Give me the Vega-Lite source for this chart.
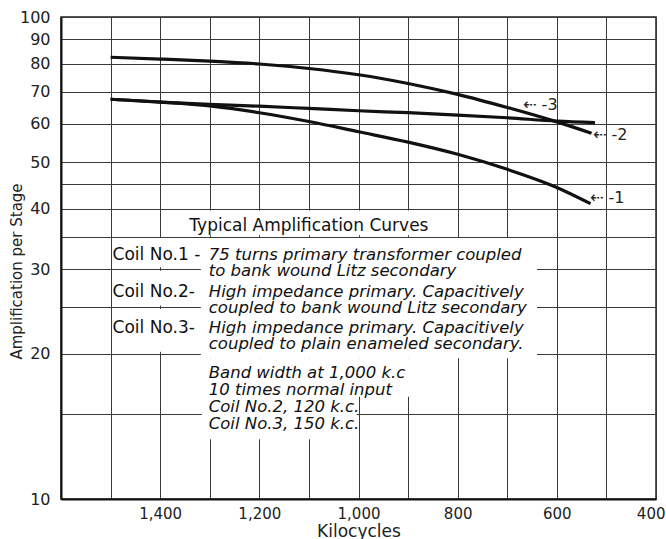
{
  "$schema": "https://vega.github.io/schema/vega-lite/v6.json",
  "width": 595,
  "height": 482,
  "autosize": "none",
  "padding": {"left": 61, "top": 17, "right": 10, "bottom": 40},
  "background": "white",
  "config": {
    "view": {"stroke": "#222", "strokeWidth": 1.5},
    "font": "DejaVu Sans"
  },
  "layer": [
    {
      "data": {"values": [
        {"kc": 1396, "kc2": 804, "amp": 39.7, "amp2": 35.25},
        {"kc": 1318, "kc2": 640, "amp": 34.8, "amp2": 19.6},
        {"kc": 1405, "kc2": 1395, "amp": 34.8, "amp2": 30.25},
        {"kc": 1405, "kc2": 1395, "amp": 29.75, "amp2": 25.2},
        {"kc": 1405, "kc2": 1395, "amp": 24.8, "amp2": 20.2},
        {"kc": 1316, "kc2": 1003.5, "amp": 19.6, "amp2": 13.3},
        {"kc": 1006, "kc2": 804, "amp": 19.6, "amp2": 16.3}
      ]},
      "mark": {"type": "rect", "color": "white", "strokeWidth": 0},
      "encoding": {
        "x": {
          "field": "kc", "type": "quantitative", "title": "Kilocycles",
          "scale": {"domain": [400, 1600], "reverse": true, "nice": false, "zero": false},
          "axis": {
            "values": [1500, 1400, 1300, 1200, 1100, 1000, 900, 800, 700, 600, 500, 400],
            "labelExpr": "datum.value % 200 == 0 ? format(datum.value, ',') : ''",
            "grid": true, "gridColor": "#3a3a3a", "gridWidth": 1, "gridOpacity": 1,
            "ticks": false, "domainColor": "#111", "domainWidth": 2,
            "labelFont": "DejaVu Sans", "labelFontSize": 15, "labelColor": "#222",
            "labelPadding": 7, "labelFlush": true, "labelFlushOffset": 9,
            "titleFont": "DejaVu Sans", "titleFontSize": 17, "titleFontWeight": "normal",
            "titleColor": "#222", "titleBaseline": "alphabetic", "titleY": 37
          }
        },
        "x2": {"field": "kc2"},
        "y": {
          "field": "amp", "type": "quantitative", "title": "Amplification per Stage",
          "scale": {"type": "log", "domain": [10, 100], "nice": false},
          "axis": {
            "values": [10, 15, 20, 25, 30, 35, 40, 45, 50, 60, 70, 80, 90, 100],
            "labelExpr": "indexof([15, 25, 35, 45], datum.value) >= 0 ? '' : datum.value + ''",
            "grid": true, "gridColor": "#3a3a3a", "gridWidth": 1, "gridOpacity": 1,
            "ticks": false, "domainColor": "#111", "domainWidth": 2,
            "labelFont": "DejaVu Sans", "labelFontSize": 16, "labelColor": "#222",
            "labelPadding": 11,
            "titleFont": "DejaVu Sans", "titleFontSize": 15, "titleFontWeight": "normal",
            "titleColor": "#222", "titleX": -45, "titleY": 254,
            "titleAlign": "center", "titleBaseline": "middle", "titleAngle": -90
          }
        },
        "y2": {"field": "amp2"}
      }
    },
    {
      "data": {"values": [
        {"coil": "2", "kc": 1500, "amp": 82.5},
        {"coil": "2", "kc": 1400, "amp": 81.8},
        {"coil": "2", "kc": 1300, "amp": 81.0},
        {"coil": "2", "kc": 1200, "amp": 79.9},
        {"coil": "2", "kc": 1100, "amp": 78.2},
        {"coil": "2", "kc": 1000, "amp": 75.9},
        {"coil": "2", "kc": 900, "amp": 72.8},
        {"coil": "2", "kc": 800, "amp": 69.1},
        {"coil": "2", "kc": 700, "amp": 64.9},
        {"coil": "2", "kc": 600, "amp": 60.6},
        {"coil": "2", "kc": 530, "amp": 57.4},
        {"coil": "1", "kc": 1500, "amp": 67.5},
        {"coil": "1", "kc": 1400, "amp": 66.6},
        {"coil": "1", "kc": 1300, "amp": 65.4},
        {"coil": "1", "kc": 1200, "amp": 63.3},
        {"coil": "1", "kc": 1100, "amp": 60.7},
        {"coil": "1", "kc": 1000, "amp": 57.8},
        {"coil": "1", "kc": 900, "amp": 55.0},
        {"coil": "1", "kc": 800, "amp": 51.9},
        {"coil": "1", "kc": 700, "amp": 48.3},
        {"coil": "1", "kc": 600, "amp": 44.3},
        {"coil": "1", "kc": 532, "amp": 41.0},
        {"coil": "3", "kc": 1500, "amp": 67.5},
        {"coil": "3", "kc": 1400, "amp": 66.6},
        {"coil": "3", "kc": 1300, "amp": 65.9},
        {"coil": "3", "kc": 1200, "amp": 65.3},
        {"coil": "3", "kc": 1100, "amp": 64.6},
        {"coil": "3", "kc": 1000, "amp": 63.9},
        {"coil": "3", "kc": 900, "amp": 63.3},
        {"coil": "3", "kc": 800, "amp": 62.6},
        {"coil": "3", "kc": 700, "amp": 61.8},
        {"coil": "3", "kc": 600, "amp": 60.8},
        {"coil": "3", "kc": 523, "amp": 60.4}
      ]},
      "mark": {"type": "line", "color": "#111", "strokeWidth": 3.2, "interpolate": "monotone"},
      "encoding": {
        "x": {"field": "kc", "type": "quantitative", "title": "Kilocycles"},
        "y": {"field": "amp", "type": "quantitative", "title": "Amplification per Stage"},
        "detail": {"field": "coil"}
      }
    },
    {
      "data": {"values": [
        {"kc": 1100, "amp": 35.9, "label": "Typical Amplification Curves"}
      ]},
      "mark": {"type": "text", "font": "DejaVu Sans", "fontSize": 17, "align": "center", "baseline": "alphabetic", "color": "#111"},
      "encoding": {
        "x": {"field": "kc", "type": "quantitative", "title": "Kilocycles"},
        "y": {"field": "amp", "type": "quantitative", "title": "Amplification per Stage"},
        "text": {"field": "label"}
      }
    },
    {
      "data": {"values": [
        {"kc": 1496, "amp": 31.32, "label": "Coil No.1 -"},
        {"kc": 1496, "amp": 26.25, "label": "Coil No.2-"},
        {"kc": 1496, "amp": 22.1, "label": "Coil No.3-"}
      ]},
      "mark": {"type": "text", "font": "DejaVu Sans", "fontSize": 17, "align": "left", "baseline": "alphabetic", "color": "#111"},
      "encoding": {
        "x": {"field": "kc", "type": "quantitative", "title": "Kilocycles"},
        "y": {"field": "amp", "type": "quantitative", "title": "Amplification per Stage"},
        "text": {"field": "label"}
      }
    },
    {
      "data": {"values": [
        {"kc": 1302, "amp": 31.32, "label": "75 turns primary transformer coupled"},
        {"kc": 1302, "amp": 29.02, "label": "to bank wound Litz secondary"},
        {"kc": 1302, "amp": 26.25, "label": "High impedance primary. Capacitively"},
        {"kc": 1302, "amp": 24.31, "label": "coupled to bank wound Litz secondary"},
        {"kc": 1302, "amp": 22.1, "label": "High impedance primary. Capacitively"},
        {"kc": 1302, "amp": 20.48, "label": "coupled to plain enameled secondary."},
        {"kc": 1302, "amp": 17.82, "label": "Band width at 1,000 k.c"},
        {"kc": 1302, "amp": 16.44, "label": "10 times normal input"},
        {"kc": 1302, "amp": 15.15, "label": "Coil No.2, 120 k.c."},
        {"kc": 1302, "amp": 13.97, "label": "Coil No.3, 150 k.c."}
      ]},
      "mark": {"type": "text", "font": "DejaVu Sans", "fontStyle": "italic", "fontSize": 16.5, "align": "left", "baseline": "alphabetic", "color": "#111"},
      "encoding": {
        "x": {"field": "kc", "type": "quantitative", "title": "Kilocycles"},
        "y": {"field": "amp", "type": "quantitative", "title": "Amplification per Stage"},
        "text": {"field": "label"}
      }
    },
    {
      "data": {"values": [
        {"kc": 668, "amp": 65.8, "label": "⇠ -3"},
        {"kc": 527, "amp": 56.9, "label": "⇠ -2"},
        {"kc": 533, "amp": 42.2, "label": "⇠ -1"}
      ]},
      "mark": {"type": "text", "font": "DejaVu Sans", "fontSize": 16, "align": "left", "baseline": "middle", "color": "#222"},
      "encoding": {
        "x": {"field": "kc", "type": "quantitative", "title": "Kilocycles"},
        "y": {"field": "amp", "type": "quantitative", "title": "Amplification per Stage"},
        "text": {"field": "label"}
      }
    }
  ]
}
